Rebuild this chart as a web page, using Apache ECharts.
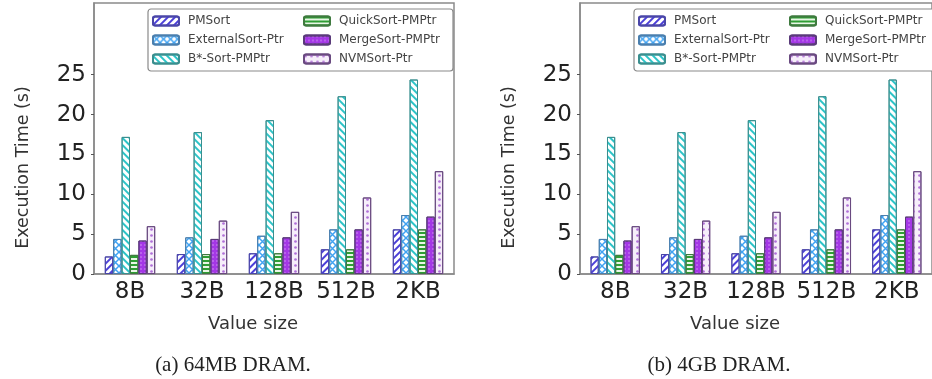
<!DOCTYPE html>
<html>
<head>
<meta charset="utf-8">
<script src="https://cdn.jsdelivr.net/npm/echarts@6/dist/echarts.min.js"></script>
<style>
html, body { margin: 0; padding: 0; background: #fff; }
#main { width: 932px; height: 379px; }
</style>
</head>
<body>
<div id="main"></div>
<script>
var categories = ['8B', '32B', '128B', '512B', '2KB'];
var seriesNames = ['PMSort', 'ExternalSort-Ptr', 'B*-Sort-PMPtr', 'QuickSort-PMPtr', 'MergeSort-PMPtr', 'NVMSort-Ptr'];
var yTicks = [0, 5, 10, 15, 20, 25];

// (a) 64MB DRAM
var pmSortA       = [2.2, 2.5, 2.6, 3.1, 5.6];
var externalA     = [4.4, 4.6, 4.8, 5.6, 7.4];
var bStarA        = [17.2, 17.8, 19.3, 22.3, 24.4];
var quickA        = [2.4, 2.5, 2.6, 3.1, 5.6];
var mergeA        = [4.2, 4.4, 4.6, 5.6, 7.2];
var nvmA          = [6.0, 6.7, 7.8, 9.6, 12.9];

// (b) 4GB DRAM
var pmSortB       = [2.2, 2.5, 2.6, 3.1, 5.6];
var externalB     = [4.4, 4.6, 4.8, 5.6, 7.4];
var bStarB        = [17.2, 17.8, 19.3, 22.3, 24.4];
var quickB        = [2.4, 2.5, 2.6, 3.1, 5.6];
var mergeB        = [4.2, 4.4, 4.6, 5.6, 7.2];
var nvmB          = [6.0, 6.7, 7.8, 9.6, 12.9];

var font = 'DejaVu Sans';

// look of each series: fill + hatch
var looks = [
    { color: '#ffffff', border: '#4a46a8', decal: { symbol: 'rect', symbolSize: 1, dashArrayX: [1, 0], dashArrayY: [1.6, 2.6], rotation: -Math.PI / 4, color: '#4b3fd8' } },
    { color: '#ffffff', border: '#4a7fae', decal: { symbol: 'path://M0,0L1.5,0L10,8.5L10,10L8.5,10L0,1.5ZM8.5,0L10,0L10,1.5L1.5,10L0,10L0,8.5Z', symbolSize: 1, dashArrayX: [7, 0], dashArrayY: [7, 0], color: '#3fa2f2' } },
    { color: '#ffffff', border: '#3a8f8f', decal: { symbol: 'rect', symbolSize: 1, dashArrayX: [1, 0], dashArrayY: [1.6, 2.4], rotation: Math.PI / 4, color: '#2cc4c8' } },
    { color: '#e9f6e6', border: '#3f7a3f', decal: { symbol: 'rect', symbolSize: 1, dashArrayX: [1, 0], dashArrayY: [1.2, 1.8], rotation: 0, color: '#2e9e34' } },
    { color: '#a437e6', border: '#5a3a7a', decal: { symbol: 'circle', symbolSize: 0.8, dashArrayX: [2, 1.2], dashArrayY: [2, 1.2], color: 'rgba(255,230,255,0.55)' } },
    { color: '#f6eefa', border: '#6a4a80', decal: { symbol: 'circle', symbolSize: 0.9, dashArrayX: [2.2, 2.2], dashArrayY: [2.2, 2.2], color: '#b070d8' } }
];

var dataA = [pmSortA, externalA, bStarA, quickA, mergeA, nvmA];
var dataB = [pmSortB, externalB, bStarB, quickB, mergeB, nvmB];

var panels = [
    { left: 94, caption: '(a) 64MB DRAM.', captionX: 233, legendLeft: 148, data: dataA },
    { left: 580, caption: '(b) 4GB DRAM.', captionX: 719, legendLeft: 634, data: dataB }
];

var grids = [], xAxes = [], yAxes = [], legends = [], series = [], graphics = [];

panels.forEach(function (p, k) {
    grids.push({ left: p.left, top: 3, width: 360, height: 271, show: true, borderColor: '#8a8a8a', borderWidth: 1.5, backgroundColor: 'transparent' });
    xAxes.push({
        type: 'category', gridIndex: k, data: categories,
        axisLine: { lineStyle: { color: '#8a8a8a', width: 1.5 } },
        axisTick: { inside: true, alignWithLabel: true, length: 4, lineStyle: { color: '#555' } },
        axisLabel: { interval: 0, fontFamily: font, fontSize: 23, color: '#222', margin: 7 },
        name: 'Value size', nameLocation: 'middle', nameGap: 41,
        nameTextStyle: { fontFamily: font, fontSize: 18, color: '#333', padding: [0, 42, 0, 0] }
    });
    xAxes.push({
        type: 'category', gridIndex: k, data: categories, position: 'top',
        axisLine: { show: false },
        axisTick: { inside: true, alignWithLabel: true, length: 4, lineStyle: { color: '#555' } },
        axisLabel: { show: false }
    });
    yAxes.push({
        type: 'value', gridIndex: k, min: 0, max: 34,
        axisLine: { show: true, lineStyle: { color: '#8a8a8a', width: 1.5 } },
        splitLine: { show: false },
        axisTick: { show: true, length: 3, customValues: yTicks, lineStyle: { color: '#555' } },
        axisLabel: { fontFamily: font, fontSize: 23, color: '#222', margin: 8, customValues: yTicks },
        name: 'Execution Time (s)', nameLocation: 'middle', nameGap: 62, nameRotate: 90,
        nameTextStyle: { fontFamily: font, fontSize: 17.5, color: '#333', padding: [0, 58, 0, 0] }
    });
    legends.push({
        data: seriesNames, orient: 'vertical', left: p.legendLeft, top: 9, height: 54,
        padding: [5, 4, 5, 4], itemGap: 5, itemWidth: 26, itemHeight: 9,
        borderColor: '#8a8a8a', borderWidth: 1.2, borderRadius: 3, backgroundColor: '#fff',
        selectedMode: false,
        textStyle: { fontFamily: font, fontSize: 12, color: '#444', width: 110, lineHeight: 14, padding: [0, 0, 0, 4] }
    });
    p.data.forEach(function (vals, i) {
        series.push({
            name: seriesNames[i], type: 'bar', xAxisIndex: k * 2, yAxisIndex: k,
            data: vals, barGap: '0%', barCategoryGap: '30%',
            itemStyle: { color: looks[i].color, borderColor: looks[i].border, borderWidth: 1, decal: looks[i].decal },
            emphasis: { disabled: true }, animation: false
        });
    });
    graphics.push({
        type: 'text', x: p.captionX, y: 365,
        style: { text: p.caption, font: '21px "Liberation Serif"', fill: '#222', textAlign: 'center', textVerticalAlign: 'middle' }
    });
});

var myChart = echarts.init(document.getElementById('main'));
var option = {
    animation: false,
    grid: grids,
    xAxis: xAxes,
    yAxis: yAxes,
    legend: legends,
    series: series,
    graphic: graphics
};
myChart.setOption(option);
window.onresize = myChart.resize;
</script>
</body>
</html>
